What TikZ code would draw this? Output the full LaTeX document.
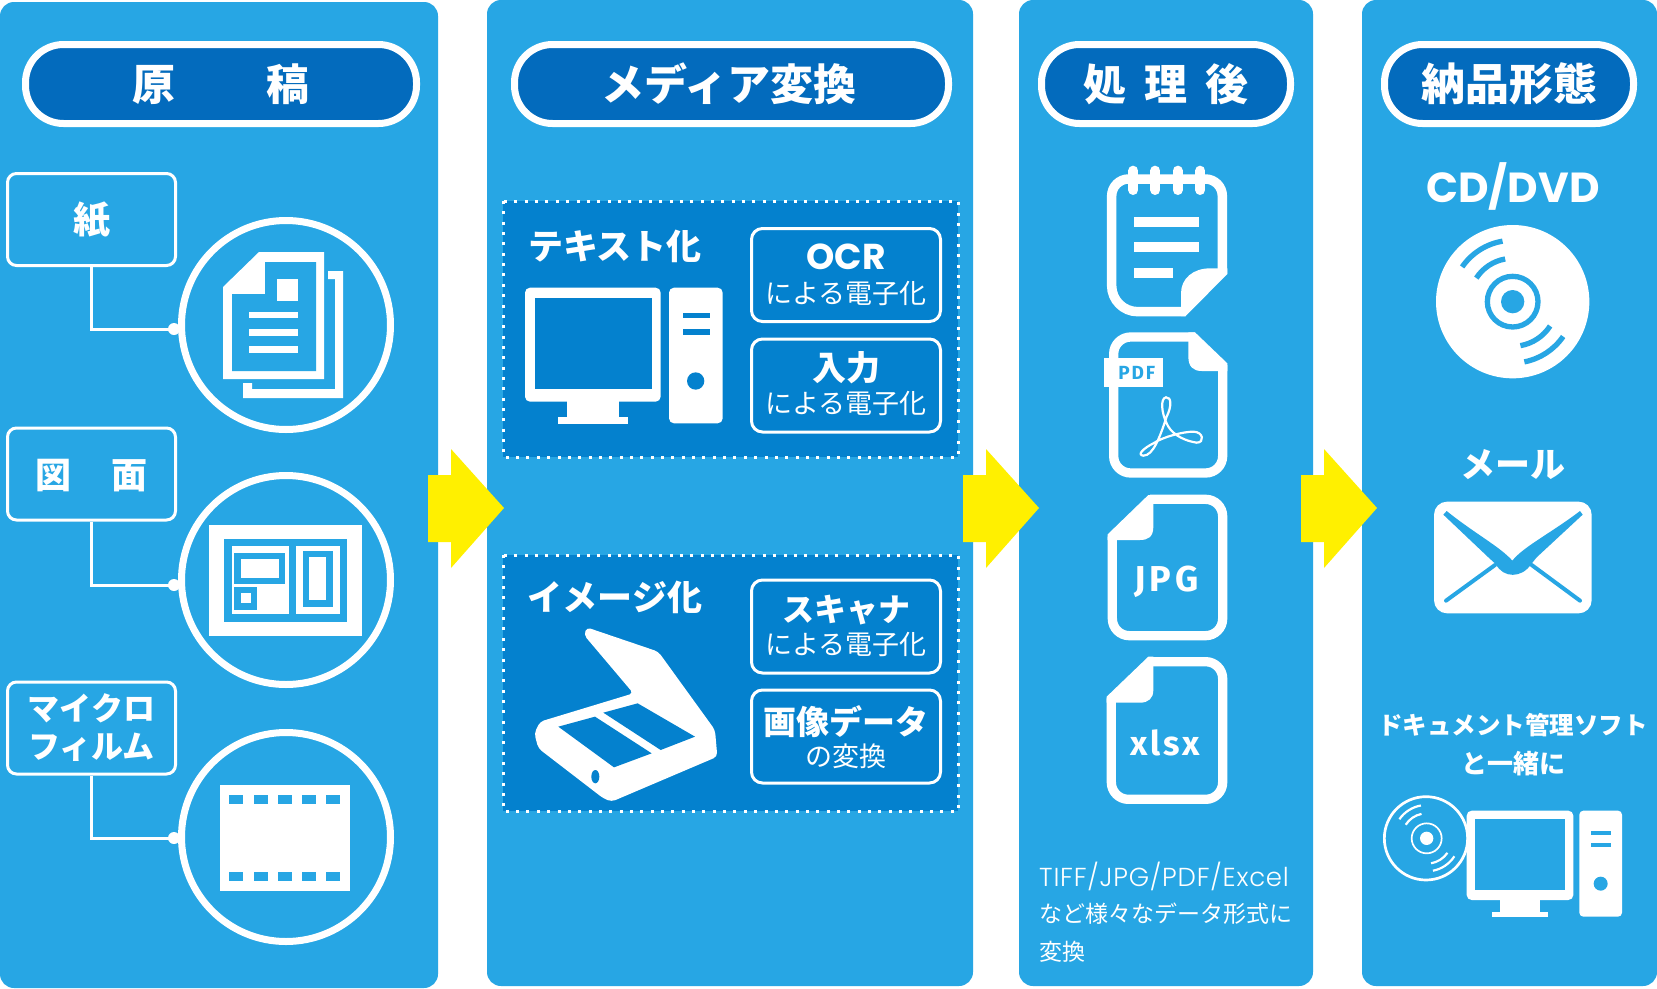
\documentclass[tikz,border=0pt]{standalone}
\usepackage{fontspec}
\setmainfont{Noto Sans CJK JP}
\newfontfamily\jpblack{Noto Sans CJK JP Black}
\newfontfamily\popm{Poppins}
\newfontfamily\popl{Poppins Light}[LetterSpace=3]
\newfontfamily\fira{Fira Sans}
\definecolor{panelc}{HTML}{27A6E4}
\definecolor{pillc}{HTML}{036BBD}
\definecolor{innerc}{HTML}{0481CE}
\definecolor{yel}{HTML}{FFF000}
\newcommand{\fs}[1]{\fontsize{#1}{#1}\selectfont}
\tikzset{
 panel/.style={fill=panelc,rounded corners=14},
 pill/.style={draw=white,fill=pillc,line width=7,rounded corners=38,inner sep=0,text=white,font=\jpblack\fs{43}},
 srcbox/.style={draw=white,line width=3,rounded corners=9,minimum width=168,minimum height=92,inner sep=0,text=white,align=center},
 optbox/.style={draw=white,line width=3,rounded corners=11,minimum width=189,minimum height=93,inner sep=0},
 round/.style={circle,draw=white,line width=7,minimum size=209,inner sep=0},
 dotbox/.style={fill=innerc,draw=white,line width=3,dash pattern=on 3 off 7.35},
 wt/.style={text=white,inner sep=0},
 conn/.style={draw=white,line width=3},
 zs/.style={x=0.33333pt,y=-0.33333pt},
 yarrow/.style={fill=yel},
}
\newcommand{\yarr}[1]{\fill[yarrow,shift={(#1,0)}] (0,475) -- (23,475) -- (23,449) -- (76,508) -- (23,568) -- (23,542) -- (0,542) -- cycle;}
\begin{document}
\begin{tikzpicture}[x=1pt,y=-1pt]
\useasboundingbox (0,0) rectangle (1657,988);
\fill[white] (0,0) rectangle (1657,988);
% panels
\fill[panel] (0,2) rectangle (438,988);
\fill[panel] (487,0) rectangle (973,986);
\fill[panel] (1019,0) rectangle (1313,986);
\fill[panel] (1362,0) rectangle (1657,986);
% pills
\node[pill,minimum width=391,minimum height=79] (p1) at (221,84) {原\hspace{91pt}稿};
\node[pill,minimum width=434,minimum height=79] (p2) at (731.5,84) {\hspace{-5pt}メディア変換};
\node[pill,minimum width=249,minimum height=79] (p3) at (1166,84) {処\hspace{18pt}理\hspace{18pt}後};
\node[pill,minimum width=249,minimum height=79] (p4) at (1509,84) {\fs{44}納品形態};
% source boxes and circles
\node[srcbox] (b1) at (91.5,219.5) {};
\node[srcbox] (b2) at (91.5,474) {};
\node[srcbox,font=\fontsize{32}{38}\selectfont\bfseries] (b3) at (91.5,728) {マイクロ\\フィルム};
\node[wt,font=\jpblack\fs{37}] (b1t) at (91.5,220.5) {紙};
\node[wt,font=\jpblack\fs{36}] (b2t) at (91.5,476) {図\hspace{40pt}面};
\node[round] (c1) at (286,325) {};
\node[round] (c2) at (286,580) {};
\node[round] (c3) at (286,837) {};
\coordinate (d1) at (174,329);
\coordinate (d2) at (174,585);
\coordinate (d3) at (174,838);
\draw[conn] (b1.south) |- (d1);
\draw[conn] (b2.south) |- (d2);
\draw[conn] (b3.south) |- (d3);
\fill[white] (d1) circle (6); \fill[white] (d2) circle (6); \fill[white] (d3) circle (6);
% paper icon
\fill[white] (223,287) -- (259,252) -- (324,252) -- (324,379) -- (223,379) -- cycle;
\fill[panelc] (232,294) -- (265,294) -- (265,262) -- (316,262) -- (316,371) -- (232,371) -- cycle;
\fill[white] (277,279) rectangle (298,301);
\fill[white] (249,312) rectangle (298,318);
\fill[white] (249,329) rectangle (298,336);
\fill[white] (249,346) rectangle (298,353);
\fill[white] (328,271) -- (343,271) -- (343,398) -- (243,398) -- (243,383) -- (252,383) -- (252,389) -- (335,389) -- (335,279) -- (328,279) -- cycle;
% blueprint icon
\fill[white] (209,525) rectangle (362,636);
\fill[panelc] (224,539) rectangle (347,622);
\fill[white] (232,546) rectangle (289,614);
\fill[panelc] (234,553) rectangle (285,584);
\fill[white] (241,559) rectangle (279,578);
\fill[panelc] (234,587) rectangle (257,610);
\fill[white] (241,593) rectangle (251,603);
\fill[white] (296,546) rectangle (340,614);
\fill[panelc] (303,551) rectangle (333,607);
\fill[white] (309,557) rectangle (326,600);
% film icon
\fill[white] (220,785) rectangle (350,891);
\foreach \hx in {229,254,278,302,326}{
 \fill[panelc] (\hx,795) rectangle ++(14,9);
 \fill[panelc] (\hx,872) rectangle ++(14,9);
}
% arrows
\yarr{428}\yarr{963}\yarr{1301}
% dotted boxes
\path[dotbox] (503,201) rectangle (958,457);
\path[dotbox] (503,555) rectangle (958,811);
\node[wt,font=\fs{35}\bfseries] (t1) at (615,246) {テキスト化};
\node[wt,font=\fs{35}\bfseries] (t2) at (615,597) {イメージ化};
% option boxes
\node[optbox] (o1) at (846,275) {};
\node[optbox] (o2) at (846,385.5) {};
\node[optbox] (o3) at (846,626.5) {};
\node[optbox] (o4) at (846,736.5) {};
\node[wt,font=\popm\fs{36}\bfseries] (o1a) at (846,257) {OCR};
\node[wt,font=\fs{27}] (o1b) at (846,293) {による電子化};
\node[wt,font=\fs{34}\bfseries] (o2a) at (846,368) {入力};
\node[wt,font=\fs{27}] (o2b) at (846,403) {による電子化};
\node[wt,font=\fs{32}\bfseries] (o3a) at (846,610) {スキャナ};
\node[wt,font=\fs{27}] (o3b) at (846,644.5) {による電子化};
\node[wt,font=\fs{33}\bfseries] (o4a) at (846,722) {画像データ};
\node[wt,font=\fs{27}] (o4b) at (846,756) {の変換};
% computer
\begin{scope}[shift={(490,180)},zs]
\fill[white,rounded corners=5] (105,323) rectangle (512,665);
\fill[innerc] (135,355) rectangle (487,628);
\fill[white] (232,660) rectangle (386,715);
\fill[white] (204,712) rectangle (414,732);
\fill[white,rounded corners=5] (537,323) rectangle (698,730);
\fill[innerc] (578,398) rectangle (660,415);
\fill[innerc] (578,448) rectangle (660,465);
\fill[innerc] (617,603) circle (26);
\end{scope}
% scanner
\begin{scope}[shift={(490,540)},zs]
\fill[white,rounded corners=4] (290,262) -- (505,335) -- (675,570) -- (682,650) -- (365,785) -- (340,775) -- (145,625) -- (133,580) -- (150,545) -- (430,460) -- (282,285) -- cycle;
\fill[innerc] (205,560) -- (315,530) -- (485,640) -- (372,682) -- cycle;
\fill[innerc] (340,518) -- (443,490) -- (615,590) -- (512,630) -- cycle;
\fill[innerc] (316,710) ellipse [x radius=12,y radius=20];
\end{scope}
% notebook
\begin{scope}[shift={(1020,150)},zs]
\draw[white,line width=9.5,rounded corners=17] (607,372) -- (607,87) -- (275,87) [rounded corners=26] -- (275,485) -- (497,485);
\foreach \rx in {340,406,473,541}{\draw[white,line width=10,line cap=round] (\rx,62) -- (\rx,120);}
\fill[white] (343,200) rectangle (538,230);
\fill[white] (343,277) rectangle (538,305);
\fill[white] (343,353) rectangle (460,383);
\fill[white] (622,372) -- (497,498) -- (483,498) -- (483,430) .. controls (483,385) and (520,355) .. (570,355) -- (622,355) -- cycle;
% pdf
\draw[white,line width=9.3,rounded corners=17] (608,645) -- (608,969) -- (281,969) -- (281,561) -- (525,561);
\fill[white] (525,547) -- (622,640) -- (622,663) -- (545,663) .. controls (520,663) and (505,650) .. (505,620) -- (505,547) -- cycle;
\fill[white] (253,625) rectangle (430,712);
\node[inner sep=0,text=panelc,font=\fira\fs{19}\bfseries\addfontfeature{LetterSpace=10}] (pdf) at (350,668) {PDF};
\draw[white,line width=2.2] (438,742) .. controls (420,745) and (425,790) .. (440,820) .. controls (450,845) and (480,870) .. (530,878) .. controls (555,878) and (550,845) .. (520,845) .. controls (490,845) and (430,860) .. (400,880) .. controls (370,895) and (350,915) .. (370,917) .. controls (400,917) and (420,860) .. (440,800) .. controls (455,770) and (455,740) .. (438,742) -- cycle;
\end{scope}
% jpg, xlsx
\begin{scope}[shift={(1020,480)},zs]
\draw[white,line width=9.3,rounded corners=17] (277,170) -- (277,467) -- (608,467) -- (608,58) -- (390,58);
\fill[white] (263,163) -- (385,45) -- (400,45) -- (400,140) .. controls (400,170) and (385,180) .. (360,180) -- (263,180) -- cycle;
\node[wt,font=\fira\fs{36}\bfseries\addfontfeature{LetterSpace=12}] (jpg) at (440,304) {JPG};
\draw[white,line width=9.3,rounded corners=17] (274,655) -- (274,958) -- (608,958) -- (608,545) -- (390,545);
\fill[white] (260,650) -- (385,530) -- (400,530) -- (400,630) .. controls (400,655) and (385,668) .. (360,668) -- (260,668) -- cycle;
\node[wt,font=\fira\fs{34}\bfseries\addfontfeature{LetterSpace=8}] (xlsx) at (436,788) {xlsx};
\end{scope}
\node[wt,anchor=west,font=\popl\fs{26}] (n1) at (1039,876) {TIFF/JPG/PDF/Excel};
\node[wt,anchor=west,font=\fs{23}] (n2) at (1039,914) {など様々なデータ形式に};
\node[wt,anchor=west,font=\fs{23}] (n3) at (1039,952) {変換};
% right column
\node[wt,font=\popm\fs{42}\bfseries] (r1) at (1513,186) {CD/DVD};
\node[wt,font=\fs{35}\bfseries] (r2) at (1513,465) {メール};
\node[wt,font=\fs{24.5}\bfseries] (r3) at (1513,725) {ドキュメント管理ソフト};
\node[wt,font=\fs{26}\bfseries] (r4) at (1513,764) {と一緒に};
% cd
\begin{scope}[shift={(1360,150)},zs]
\fill[white] (458,455) circle (230);
\draw[panelc,line width=5.3] (458,455) circle (76);
\fill[panelc] (458,455) circle (35);
\foreach \sa/\ea/\rr in {214.5/260.5/184,213/260/130,34.6/79/184,33/80/134}{
 \draw[panelc,line width=5.3] ({458+\rr*cos(\sa)},{455+\rr*sin(\sa)}) arc[start angle=\sa,end angle=\ea,radius=\rr];
}
\fill[white,rounded corners=13] (222,1055) rectangle (695,1390);
\fill[panelc] (250,1094) -- (260,1083) .. controls (340,1148) and (420,1190) .. (457,1232) .. controls (490,1190) and (575,1148) .. (660,1083) -- (668,1094) -- (530,1222) -- (513,1243) .. controls (485,1285) and (430,1285) .. (408,1243) -- (385,1222) -- cycle;
\draw[panelc,line width=4,line cap=round] (258,1352) -- (405,1245);
\draw[panelc,line width=4,line cap=round] (660,1352) -- (515,1245);
\end{scope}
% small cd + computer
\begin{scope}[shift={(1360,690)},zs]
\draw[white,line width=2.7] (198,445) circle (125);
\draw[white,line width=1.7] (200,445) circle (45);
\fill[white] (200,445) circle (20);
\foreach \sa/\ea/\rr in {215/260/100,213/258/75,35/80/76,33/79/99}{
 \draw[white,line width=2.2] ({200+\rr*cos(\sa)},{445+\rr*sin(\sa)}) arc[start angle=\sa,end angle=\ea,radius=\rr];
}
\fill[white,rounded corners=5] (320,362) rectangle (640,630);
\fill[panelc] (345,387) rectangle (615,600);
\fill[white] (420,625) rectangle (540,668);
\fill[white] (396,665) rectangle (563,680);
\fill[white,rounded corners=4] (658,362) rectangle (786,680);
\fill[panelc] (692,422) rectangle (754,435);
\fill[panelc] (692,458) rectangle (754,472);
\fill[panelc] (722,581) circle (21);
\end{scope}
\end{tikzpicture}
\end{document}
